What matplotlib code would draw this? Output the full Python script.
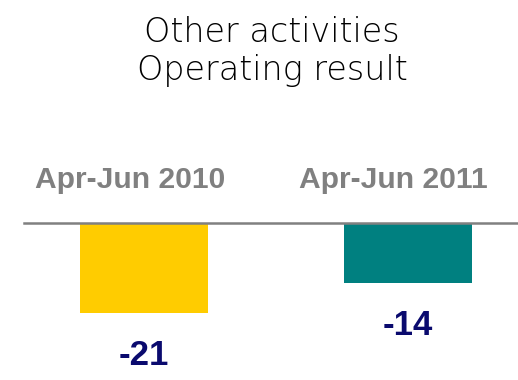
import matplotlib
matplotlib.use("Agg")
import matplotlib.pyplot as plt

categories = ["Apr-Jun 2010", "Apr-Jun 2011"]
values = [-21, -14]
value_labels = ["-21", "-14"]
bar_colors = ["#FFCC00", "#008080"]
title_lines = ["Other activities", "Operating result"]

W, H, DPI = 518, 380, 100
fig = plt.figure(figsize=(W / DPI, H / DPI), dpi=DPI)
ax = fig.add_axes([0, 0, 1, 1])

# scale: pixels per unit
k = 4.29
zero_px = 222.7
ax.set_ylim(-(H - zero_px) / k, zero_px / k)
spacing = 263.5
c0 = 144.0
ax.set_xlim(-c0 / spacing, (W - c0) / spacing)
ax.axis("off")

xs = list(range(len(categories)))
ax.bar(xs, values, width=128 / spacing, color=bar_colors, zorder=2)
ax.axhline(0, xmin=24 / W, xmax=1, color="#808080", lw=1.8, zorder=3)

for x, cat in zip(xs, categories):
    ax.text(x - 14 / spacing, (zero_px - 188) / k, cat, ha="center", va="baseline",
            fontsize=21.6, fontweight="bold", color="#808080", family="Liberation Sans")

for x, v, lab in zip(xs, values, value_labels):
    ax.annotate(lab, (x, v), xytext=(0, -52 * 72 / DPI), textcoords="offset points",
                ha="center", va="baseline", fontsize=25, fontweight="bold",
                color="#0A0A6E", family="Liberation Sans")

fig.text(272 / W, 1 - 42 / H, title_lines[0], ha="center", va="baseline",
         fontsize=24, color="#000000", family="DejaVu Sans", fontweight="light")
fig.text(272 / W, 1 - 80 / H, title_lines[1], ha="center", va="baseline",
         fontsize=24, color="#000000", family="DejaVu Sans", fontweight="light")

fig.savefig("out.png", dpi=DPI)
